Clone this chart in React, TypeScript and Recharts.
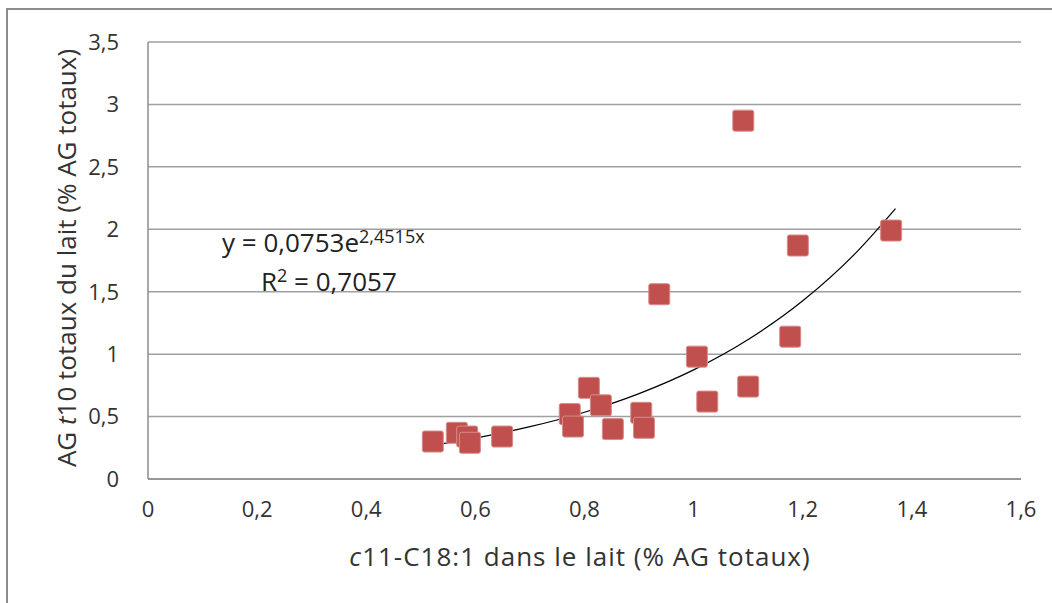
import { ComposedChart, Scatter, Line, XAxis, YAxis, CartesianGrid, Label } from "recharts"

// c11-C18:1 in milk (% of total FA) vs AG t10 in milk (% of total FA)
const xValues = [0.522, 0.566, 0.585, 0.59, 0.649, 0.773, 0.779, 0.808, 0.83, 0.852, 0.904, 0.909, 0.937, 1.006, 1.025, 1.091, 1.1, 1.177, 1.191, 1.362]
const yValues = [0.3, 0.37, 0.34, 0.29, 0.34, 0.52, 0.42, 0.73, 0.59, 0.4, 0.53, 0.41, 1.48, 0.98, 0.62, 2.87, 0.74, 1.14, 1.87, 1.99]

// exponential trendline
const trendX = [0.53, 0.6, 0.7, 0.8, 0.9, 1.0, 1.1, 1.2, 1.3, 1.37]
const trendY = [0.276, 0.328, 0.419, 0.535, 0.684, 0.874, 1.117, 1.427, 1.823, 2.165]

const xTicks = [0, 0.2, 0.4, 0.6, 0.8, 1, 1.2, 1.4, 1.6]
const yTicks = [0, 0.5, 1, 1.5, 2, 2.5, 3, 3.5]

const points = xValues.map((x, i) => ({ x, y: yValues[i] }))
const trend = trendX.map((x, i) => ({ x, y: trendY[i] }))

const font = "'Open Sans', sans-serif"
const fmt = (v: number) => String(v).replace(".", ",")

const Square = (props: any) => {
    const { cx, cy } = props
    if (cx == null || cy == null) return null
    return <rect x={cx - 10.5} y={cy - 10.5} width={21} height={21} rx={2} fill="#C0504D" stroke="#d98c8a" strokeWidth={1} />
}

const YTitle = () => {
    const cx = 66
    const cy = 258
    return (
        <text x={cx} y={cy} transform={`rotate(-90 ${cx} ${cy})`} textAnchor="middle" dominantBaseline="central" fontFamily={font} fontSize={26} fill="#333">
            AG <tspan fontStyle="italic">t</tspan>10 totaux du lait (% AG totaux)
        </text>
    )
}

const XTitle = () => (
    <text x={580} y={556} textAnchor="middle" dominantBaseline="central" fontFamily={font} fontSize={26} letterSpacing={1} fill="#333">
        <tspan fontStyle="italic">c</tspan>11-C18:1 dans le lait (% AG totaux)
    </text>
)

export default function App() {
    return (
        <div style={{ position: "absolute", left: 0, top: 0, width: 1052, height: 603, background: "#fff", overflow: "hidden" }}>
            <div style={{ position: "absolute", left: 6, top: 8, width: 1100, height: 700, borderLeft: "2px solid #8c8c8c", borderTop: "2px solid #8c8c8c" }} />
            <ComposedChart width={1052} height={603} margin={{ top: 42, right: 31, bottom: 84, left: 88 }} style={{ position: "absolute", left: 0, top: 0 }}>
                <CartesianGrid vertical={false} stroke="#a0a0a0" strokeWidth={1.5} />
                <XAxis
                    type="number"
                    dataKey="x"
                    domain={[0, 1.6]}
                    ticks={xTicks}
                    tickFormatter={fmt}
                    height={40}
                    tickLine={false}
                    tickSize={8}
                    tickMargin={14}
                    stroke="#8c8c8c"
                    strokeWidth={1.5}
                    tick={{ fill: "#333", fontSize: 22, fontFamily: font }}
                    allowDataOverflow
                >
                    <Label content={<XTitle />} />
                </XAxis>
                <YAxis
                    type="number"
                    dataKey="y"
                    domain={[0, 3.5]}
                    ticks={yTicks}
                    tickFormatter={fmt}
                    width={60}
                    tickLine={false}
                    tickSize={8}
                    tickMargin={21}
                    stroke="#8c8c8c"
                    strokeWidth={1.5}
                    tick={{ fill: "#333", fontSize: 22, fontFamily: font }}
                    allowDataOverflow
                >
                    <Label content={<YTitle />} />
                </YAxis>
                <Line data={trend} dataKey="y" type="monotone" stroke="#000" strokeWidth={1.2} dot={false} isAnimationActive={false} />
                <Scatter data={points} dataKey="y" shape={<Square />} isAnimationActive={false} />
            </ComposedChart>
            <div style={{ position: "absolute", left: 222, top: 227, fontFamily: font, fontSize: 26, color: "#222", whiteSpace: "nowrap", lineHeight: "30px" }}>
                y = 0,0753e<sup style={{ fontSize: 18, verticalAlign: "top", position: "relative", top: -6 }}>2,4515x</sup>
            </div>
            <div style={{ position: "absolute", left: 261, top: 266, fontFamily: font, fontSize: 26, color: "#222", whiteSpace: "nowrap", lineHeight: "30px" }}>
                R<sup style={{ fontSize: 18, verticalAlign: "top", position: "relative", top: -6 }}>2</sup> = 0,7057
            </div>
        </div>
    )
}
